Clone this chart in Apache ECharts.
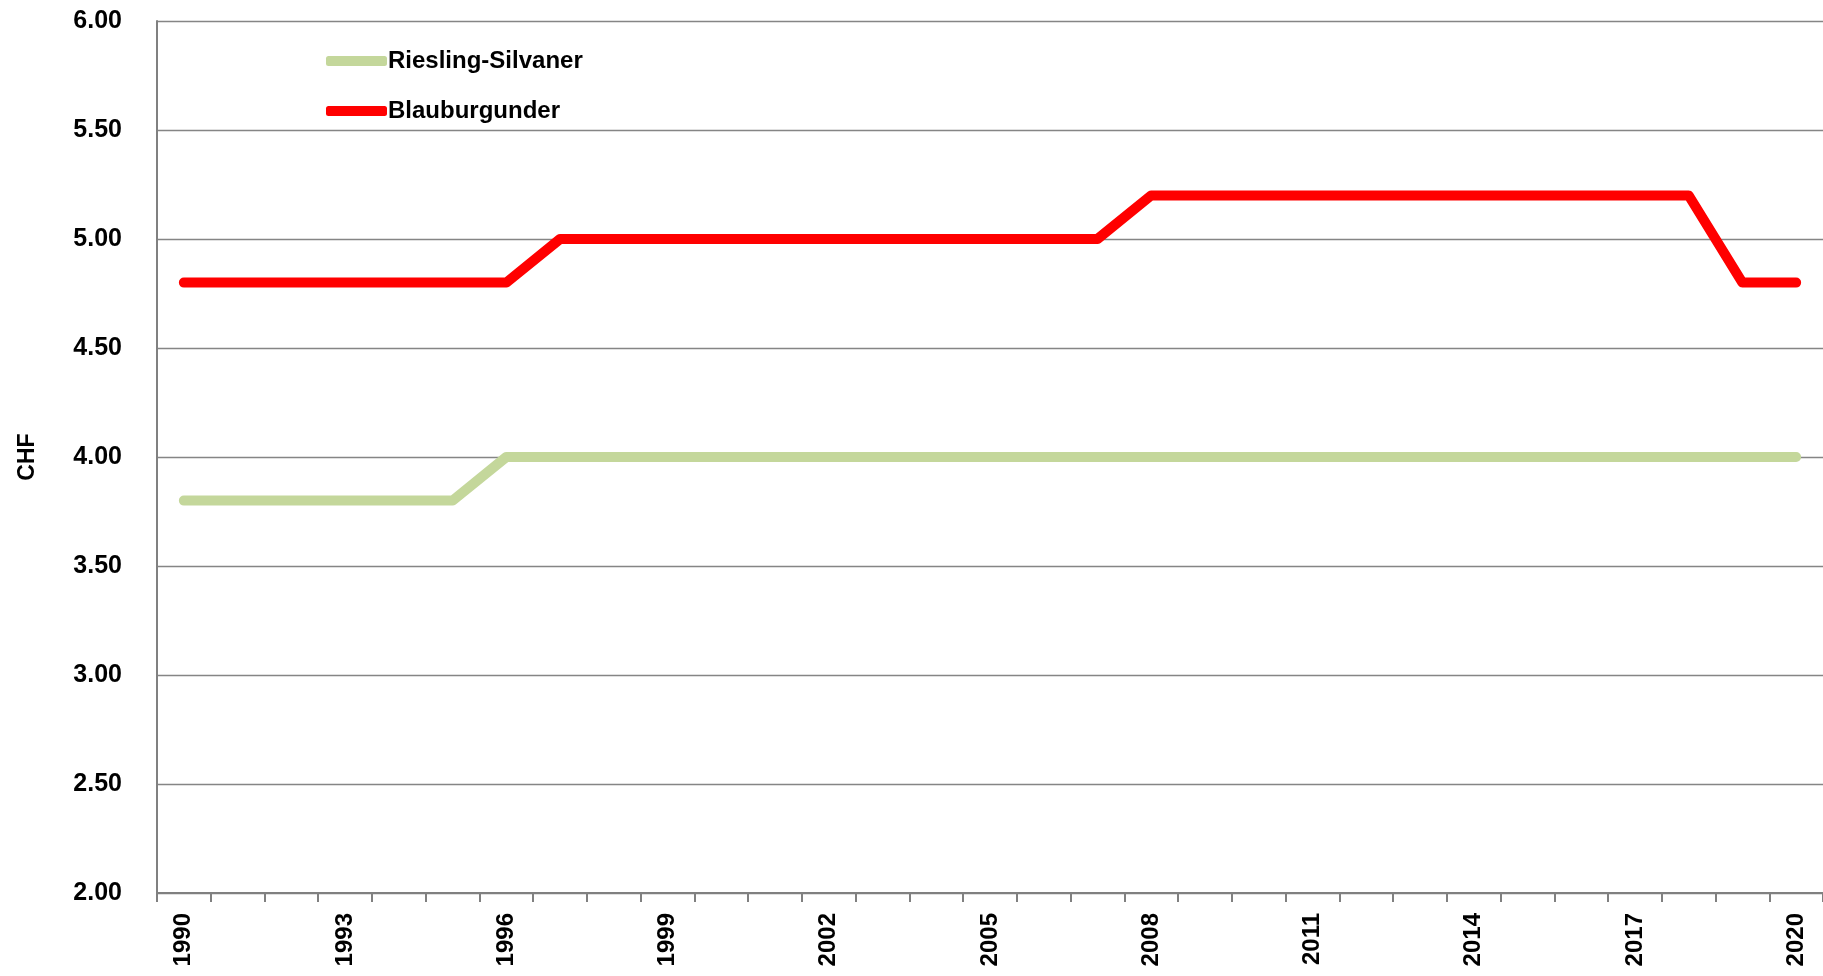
<!DOCTYPE html>
<html>
<head>
<meta charset="utf-8">
<script src="https://cdn.jsdelivr.net/npm/echarts@6/dist/echarts.min.js"></script>
<style>
html,body{margin:0;padding:0;background:#fff;}
#chart{width:1823px;height:976px;}
</style>
</head>
<body>
<div id="chart"></div>
<script>
var years = [];
for (var y = 1990; y <= 2020; y++) years.push(String(y));

var rieslingSilvaner = [3.80,3.80,3.80,3.80,3.80,3.80,4.00,4.00,4.00,4.00,4.00,4.00,4.00,4.00,4.00,4.00,4.00,4.00,4.00,4.00,4.00,4.00,4.00,4.00,4.00,4.00,4.00,4.00,4.00,4.00,4.00];
var blauburgunder = [4.80,4.80,4.80,4.80,4.80,4.80,4.80,5.00,5.00,5.00,5.00,5.00,5.00,5.00,5.00,5.00,5.00,5.00,5.20,5.20,5.20,5.20,5.20,5.20,5.20,5.20,5.20,5.20,5.20,4.80,4.80];

var yMin = 2, yMax = 6, yStep = 0.5;
var FONT = "'Liberation Sans', Arial, sans-serif";

var chart = echarts.init(document.getElementById('chart'));
chart.setOption({
  animation: false,
  backgroundColor: '#ffffff',
  grid: {left: 157, right: 0, top: 21, bottom: 83, containLabel: false},
  legend: {
    orient: 'vertical',
    left: 321,
    top: 44,
    itemWidth: 61,
    itemHeight: 10,
    itemGap: 26,
    icon: 'roundRect',
    textStyle: {fontFamily: FONT, fontWeight: 'bold', fontSize: 24, color: '#000', padding: [0,0,0,-4]},
    data: ['Riesling-Silvaner', 'Blauburgunder']
  },
  xAxis: {
    type: 'category',
    data: years,
    boundaryGap: true,
    axisLine: {show: true, lineStyle: {color: '#808080', width: 2}},
    axisTick: {show: true, interval: 0, length: 9, lineStyle: {color: '#808080', width: 2}},
    axisLabel: {interval: 2, rotate: 90, margin: 20, fontFamily: FONT, fontWeight: 'bold', fontSize: 24, color: '#000'},
    splitLine: {show: false}
  },
  yAxis: {
    type: 'value',
    min: yMin, max: yMax, interval: yStep,
    name: 'CHF',
    nameLocation: 'middle',
    nameRotate: 90,
    nameGap: 118,
    nameTextStyle: {fontFamily: FONT, fontWeight: 'bold', fontSize: 23, color: '#000'},
    axisLine: {show: true, lineStyle: {color: '#808080', width: 2}},
    axisTick: {show: false},
    axisLabel: {margin: 35, fontFamily: FONT, fontWeight: 'bold', fontSize: 25, color: '#000',
      formatter: function(v){ return v.toFixed(2); }},
    splitLine: {show: true, lineStyle: {color: '#858585', width: 1.4}}
  },
  series: [
    {
      name: 'Riesling-Silvaner', type: 'line', data: rieslingSilvaner,
      symbol: 'none', smooth: false,
      itemStyle: {color: '#c4d79b'},
      lineStyle: {color: '#c4d79b', width: 10, cap: 'round', join: 'round'}
    },
    {
      name: 'Blauburgunder', type: 'line', data: blauburgunder,
      symbol: 'none', smooth: false,
      itemStyle: {color: '#ff0000'},
      lineStyle: {color: '#ff0000', width: 10, cap: 'round', join: 'round'}
    }
  ]
});
</script>
</body>
</html>
